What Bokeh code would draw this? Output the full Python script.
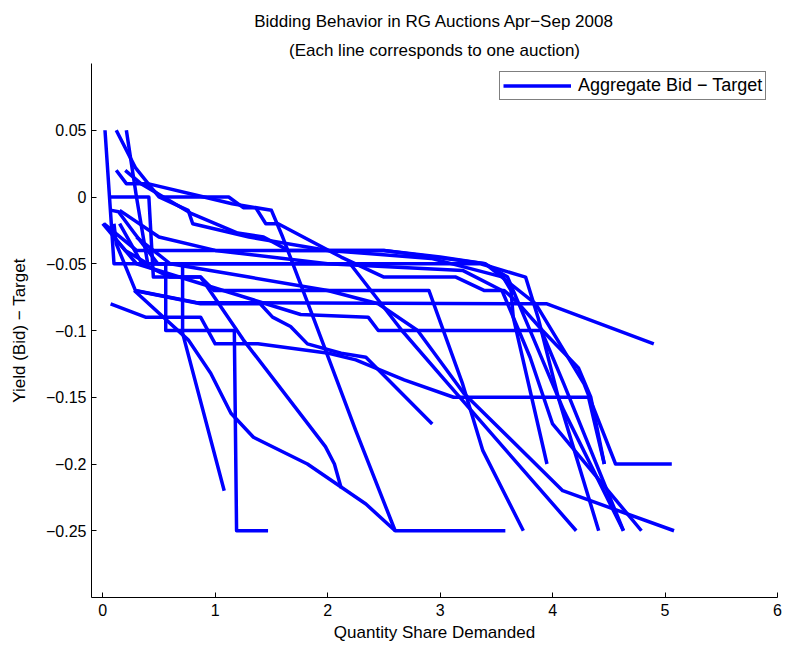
from bokeh.plotting import figure
from bokeh.models import FixedTicker, Legend, LegendItem, Title
from bokeh.embed import file_html
from bokeh.resources import INLINE

# Each auction: quantity share demanded (x) and yield(bid) - target (y)
auction_x = [
    [0.02, 0.10, 2.90, 3.36, 3.76, 3.87, 4.05, 4.41],
    [0.12, 0.29, 0.50, 0.76, 0.80, 1.30, 2.00, 2.92, 3.56, 3.63, 3.65, 3.95],
    [0.21, 0.30, 0.40, 0.56, 0.56, 1.17, 1.19, 1.47],
    [0.05, 0.41, 0.45, 0.87, 0.99, 1.73, 2.90, 3.20, 3.38, 3.74],
    [0.12, 0.21, 0.38, 0.52, 1.12, 1.25, 1.36, 1.45, 1.56, 2.12, 2.50, 3.14, 3.39, 3.57, 3.70, 3.91, 4.23, 4.34, 4.46],
    [0.10, 0.12, 0.29, 0.83, 3.95, 4.90],
    [0.01, 0.30, 2.50, 3.40, 3.85, 4.28, 4.56, 5.06],
    [0.07, 0.38, 0.87, 1.00, 1.38, 2.01, 2.25, 2.68, 3.12, 4.32, 4.46],
    [0.28, 0.76, 0.96, 1.14, 1.34, 1.82, 2.34, 2.60, 3.58],
    [0.08, 0.14, 0.28, 0.49, 0.71, 0.71, 1.08],
    [0.28, 0.87, 1.40, 1.51, 1.67, 1.82, 2.12, 2.34, 2.93],
    [0.15, 0.35, 0.60, 0.87, 1.25, 1.98, 2.06, 2.12],
    [0.40, 0.90, 1.15, 1.50, 1.60, 1.88, 2.25, 2.60],
    [0.00, 0.20, 0.40, 1.50, 2.20, 2.66, 3.04, 4.21],
    [0.10, 0.30, 1.76, 2.36, 2.45, 2.80, 3.21, 4.09, 5.08],
    [0.30, 0.60, 1.30, 2.00, 2.45, 2.80, 3.90, 4.10, 4.63],
    [0.15, 0.50, 1.00, 2.00, 3.20, 3.55, 3.80, 4.00, 4.79],
    [0.20, 0.34, 0.78, 1.20, 1.43, 1.65, 2.50, 3.00, 3.40, 3.60, 4.10, 4.63],
]
auction_y = [
    [0.05, -0.05, -0.05, -0.05, -0.06, -0.09, -0.15, -0.25],
    [0.05, 0.022, 0.0, -0.01, -0.02, -0.03, -0.04, -0.046, -0.06, -0.07, -0.09, -0.20],
    [0.05, 0.0, -0.05, -0.05, -0.10, -0.10, -0.25, -0.25],
    [0.0, 0.0, -0.06, -0.06, -0.07, -0.07, -0.07, -0.14, -0.19, -0.25],
    [0.02, 0.01, 0.01, 0.0, 0.0, -0.008, -0.008, -0.02, -0.02, -0.045, -0.06, -0.06, -0.07, -0.07, -0.08, -0.10, -0.128, -0.15, -0.20],
    [-0.02, -0.035, -0.07, -0.079, -0.08, -0.11],
    [-0.02, -0.04, -0.04, -0.05, -0.08, -0.14, -0.20, -0.20],
    [-0.08, -0.09, -0.09, -0.11, -0.11, -0.117, -0.122, -0.137, -0.15, -0.15, -0.20],
    [-0.07, -0.107, -0.132, -0.162, -0.18, -0.20, -0.23, -0.25, -0.25],
    [-0.01, -0.011, -0.027, -0.05, -0.05, -0.102, -0.22],
    [-0.07, -0.08, -0.08, -0.09, -0.097, -0.11, -0.117, -0.12, -0.17],
    [-0.02, -0.05, -0.06, -0.06, -0.107, -0.187, -0.20, -0.218],
    [0.01, 0.0, -0.005, -0.01, -0.03, -0.092, -0.175, -0.25],
    [-0.02, -0.04, -0.05, -0.05, -0.05, -0.10, -0.137, -0.25],
    [-0.03, -0.05, -0.088, -0.09, -0.10, -0.10, -0.147, -0.22, -0.25],
    [-0.03, -0.05, -0.06, -0.07, -0.08, -0.10, -0.10, -0.14, -0.25],
    [-0.01, -0.03, -0.04, -0.05, -0.055, -0.07, -0.12, -0.17, -0.25],
    [0.02, 0.01, -0.012, -0.027, -0.03, -0.04, -0.04, -0.045, -0.05, -0.06, -0.16, -0.25],
]

title_lines = ["Bidding Behavior in RG Auctions Apr\u2212Sep 2008",
               "(Each line corresponds to one auction)"]
title_standoffs = [7, 8]
x_label = "Quantity Share Demanded"
y_label = "Yield (Bid) \u2212 Target"
legend_label = "Aggregate Bid \u2212 Target"
x_ticks = [0, 1, 2, 3, 4, 5, 6]
y_ticks = [0.05, 0.0, -0.05, -0.10, -0.15, -0.20, -0.25]
y_tick_labels = ["0.05", "0", "\u22120.05", "\u22120.1", "\u22120.15", "\u22120.2", "\u22120.25"]

FONT = "'Liberation Sans', Arial, sans-serif"

p = figure(width=786, height=649, output_backend="svg", toolbar_location=None,
           x_range=(-0.1, 6), y_range=(-0.3, 0.1),
           min_border_left=91, min_border_right=9, min_border_top=63, min_border_bottom=52)
p.title.text = ""
p.title.visible = False
p.outline_line_color = None
p.xgrid.visible = False
p.ygrid.visible = False
p.background_fill_color = "white"
p.border_fill_color = "white"

for t, s in reversed(list(zip(title_lines, title_standoffs))):
    p.add_layout(Title(text=t, align="center", text_font=FONT, text_font_size="17px",
                       text_font_style="normal", text_color="black", standoff=s,
                       offset=0), "above")

renderers = []
for xs, ys in zip(auction_x, auction_y):
    r = p.line(xs, ys, line_color="#0000ff", line_width=3.5, line_join="round")
    renderers.append(r)

for ax in (p.xaxis[0], p.yaxis[0]):
    ax.major_tick_in = 5
    ax.major_tick_out = 0
    ax.minor_tick_line_color = None
    ax.axis_line_color = "black"
    ax.major_tick_line_color = "black"
    ax.major_label_text_font = FONT
    ax.major_label_text_font_size = "16px"
    ax.major_label_text_color = "black"
    ax.axis_label_text_font = FONT
    ax.axis_label_text_font_size = "17px"
    ax.axis_label_text_font_style = "normal"
    ax.axis_label_text_color = "black"

p.xaxis.ticker = FixedTicker(ticks=x_ticks)
p.yaxis.ticker = FixedTicker(ticks=y_ticks)
p.yaxis.major_label_overrides = {v: s for v, s in zip(y_ticks, y_tick_labels)}
p.xaxis.axis_label = x_label
p.yaxis.axis_label = y_label
p.xaxis.major_label_standoff = 6
p.yaxis.major_label_standoff = 5
p.yaxis.axis_label_standoff = 14
p.xaxis.axis_label_standoff = 4

legend = Legend(items=[LegendItem(label=legend_label, renderers=[renderers[0]])],
                location=(408, 497), glyph_width=68, glyph_height=21, padding=3,
                label_standoff=7, margin=0, border_line_color="black", border_line_width=1,
                label_text_font=FONT, label_text_font_size="18px", label_text_color="black",
                background_fill_alpha=1)
p.add_layout(legend)

open("out.html", "w").write(file_html(p, INLINE))
